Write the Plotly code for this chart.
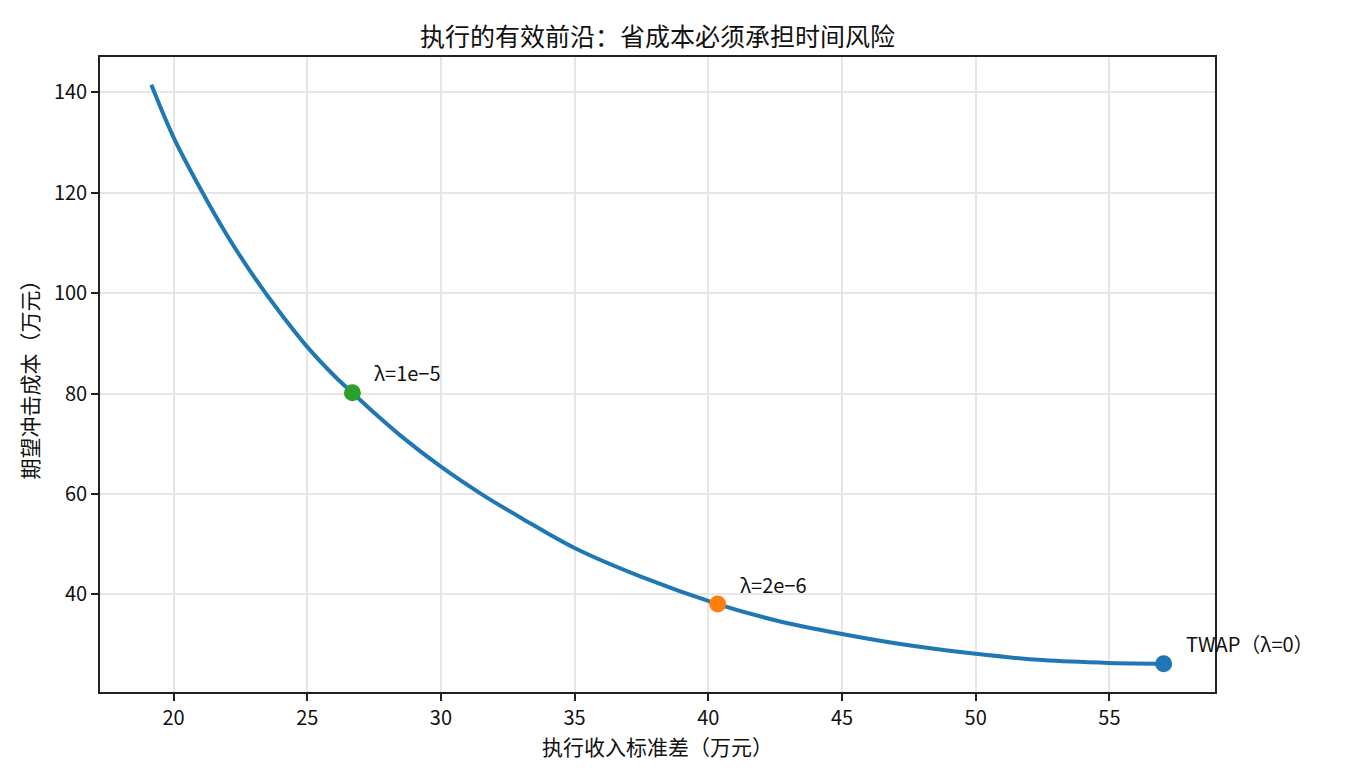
import plotly.graph_objects as go

# ---- data ----
risk_std = [19.17, 20.0, 21.0, 22.0, 23.0, 24.0, 25.0, 26.0, 26.69, 27.5, 28.5, 30.0,
            31.5, 33.0, 35.0, 37.5, 40.35, 42.5, 45.0, 47.5, 50.0, 52.5, 55.0, 57.03]
impact_cost = [141.5, 131.05, 120.85, 111.55, 103.35, 96.0, 89.3, 83.6, 80.15, 76.18, 71.58, 65.43,
               60.03, 55.23, 49.23, 43.48, 38.07, 34.85, 32.1, 29.85, 28.15, 26.9, 26.35, 26.2]

point_x = [57.03, 40.35, 26.69]
point_y = [26.2, 38.07, 80.15]
point_labels = ["TWAP（λ=0）", "λ=2e−6", "λ=1e−5"]

x_ticks = [20, 25, 30, 35, 40, 45, 50, 55]
y_ticks = [40, 60, 80, 100, 120, 140]

title_text = "执行的有效前沿：省成本必须承担时间风险"
x_title = "执行收入标准差（万元）"
y_title = "期望冲击成本（万元）"

# ---- styles ----
FONT = "Noto Sans CJK SC"
TXT = "#111111"
point_colors = ["#1f77b4", "#ff7f0e", "#2ca02c"]

fig = go.Figure()
fig.add_trace(go.Scatter(x=risk_std, y=impact_cost, mode="lines",
                         line=dict(color="#1f77b4", width=4, shape="spline", smoothing=1.0),
                         showlegend=False, hoverinfo="skip"))
for px, py, c in zip(point_x, point_y, point_colors):
    fig.add_trace(go.Scatter(x=[px], y=[py], mode="markers",
                             marker=dict(color=c, size=17, line=dict(width=0)),
                             showlegend=False))

for px, py, lab in zip(point_x, point_y, point_labels):
    fig.add_annotation(x=px, y=py, text=lab, showarrow=False, xanchor="left", yanchor="middle",
                       xshift=20, yshift=20, font=dict(family=FONT, size=20, color=TXT))

axis_common = dict(showline=True, linecolor="#222222", linewidth=1.6, mirror=True,
                   ticks="outside", ticklen=7, tickwidth=1.6, tickcolor="#222222",
                   showgrid=True, gridcolor="#e6e6e6", gridwidth=1.5, zeroline=False,
                   tickfont=dict(family=FONT, size=20, color=TXT))

fig.update_xaxes(range=[17.25, 58.95], tickvals=x_ticks,
                 title=dict(text=x_title, font=dict(family=FONT, size=21, color=TXT), standoff=8),
                 **axis_common)
fig.update_yaxes(range=[20.55, 147.05], tickvals=y_ticks,
                 title=dict(text=y_title, font=dict(family=FONT, size=21, color=TXT), standoff=10),
                 **axis_common)

fig.update_layout(
    width=1350, height=780,
    margin=dict(l=100, r=135, t=57, b=88),
    paper_bgcolor="white", plot_bgcolor="white",
    title=dict(text=title_text, x=(100 + 1215) / 2 / 1350, xanchor="center",
               y=1 - 37 / 780, yanchor="middle", yref="container",
               font=dict(family=FONT, size=25, color=TXT)),
    font=dict(family=FONT),
)

fig.write_html("out.html")
